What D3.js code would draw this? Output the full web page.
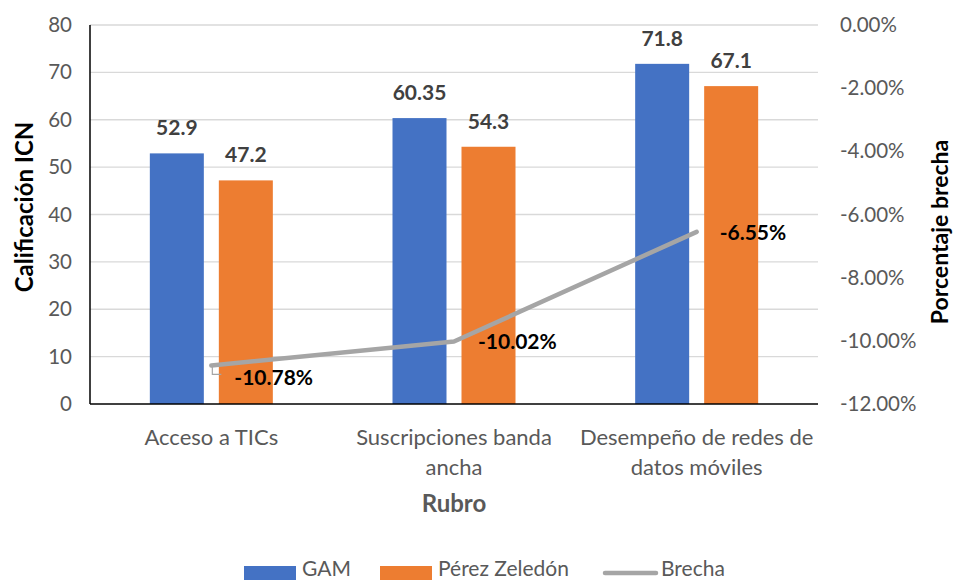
<!DOCTYPE html>
<html><head><meta charset="utf-8">
<script src="https://cdn.jsdelivr.net/npm/d3@7"></script>
<style>body{margin:0;background:#fff}svg{display:block}text{font-family:Lato,"Open Sans",sans-serif}</style>
</head><body><svg width="955" height="582"></svg>
<script>
const categories = [["Acceso a TICs"],["Suscripciones banda","ancha"],["Desempeño de redes de","datos móviles"]];
const catKeys = ["Acceso a TICs","Suscripciones banda ancha","Desempeño de redes de datos móviles"];
const seriesNames = ["GAM","Pérez Zeledón"];
const gam = [52.9, 60.35, 71.8];
const perez = [47.2, 54.3, 67.1];
const brecha = [-0.1078, -0.1002, -0.0655];
const gamLabels = ["52.9","60.35","71.8"];
const perezLabels = ["47.2","54.3","67.1"];
const brechaLabels = ["-10.78%","-10.02%","-6.55%"];
const leftTicks = [0,10,20,30,40,50,60,70,80];
const rightTicks = [0,-0.02,-0.04,-0.06,-0.08,-0.10,-0.12];
const rightTickLabels = ["0.00%","-2.00%","-4.00%","-6.00%","-8.00%","-10.00%","-12.00%"];
const colors = ["#4472C4","#ED7D31","#A5A5A5"];

const svg = d3.select("svg");
const L=90, R=818, T=25, B=404;
const x = d3.scaleBand().domain(catKeys).range([L,R]);
const y = d3.scaleLinear().domain([0,80]).range([B,T]);
const y2 = d3.scaleLinear().domain([-0.12,0]).range([B,T]);
const groupW = 123;
const x1 = d3.scaleBand().domain(seriesNames).range([0,groupW]).paddingInner(15/69);

// gridlines
svg.append("g").selectAll("line").data(leftTicks.slice(1)).join("line")
  .attr("x1",L).attr("x2",R).attr("y1",d=>y(d)).attr("y2",d=>y(d))
  .attr("stroke","#D9D9D9").attr("stroke-width",1.3);

// left axis labels
const gl = svg.append("g").attr("transform",`translate(${L},0)`)
  .call(d3.axisLeft(y).tickValues(leftTicks).tickSize(0).tickPadding(18).tickFormat(d3.format("d")));
gl.select(".domain").remove();
gl.selectAll("text").attr("font-size",20.5).attr("fill","#595959");

// right axis labels
const gr = svg.append("g").attr("transform",`translate(${R},0)`)
  .call(d3.axisRight(y2).tickValues(rightTicks).tickSize(0).tickPadding(22).tickFormat((d,i)=>rightTickLabels[i]));
gr.select(".domain").remove();
gr.selectAll("text").attr("font-size",20.5).attr("fill","#595959");

// bars
const data = catKeys.map((c,i)=>({c, vals:[gam[i],perez[i]], labs:[gamLabels[i],perezLabels[i]]}));
const groups = svg.append("g").selectAll("g").data(data).join("g")
  .attr("transform",d=>`translate(${x(d.c)+x.bandwidth()/2-groupW/2},0)`);
groups.selectAll("rect").data(d=>d.vals.map((v,j)=>({v,s:seriesNames[j],j}))).join("rect")
  .attr("x",d=>x1(d.s)).attr("width",x1.bandwidth())
  .attr("y",d=>y(d.v)).attr("height",d=>B-y(d.v)).attr("fill",d=>colors[d.j]);
groups.selectAll("text").data(d=>d.vals.map((v,j)=>({v,s:seriesNames[j],lab:d.labs[j]}))).join("text")
  .attr("x",d=>x1(d.s)+x1.bandwidth()/2).attr("y",d=>y(d.v)-18)
  .attr("text-anchor","middle").attr("font-size",21).attr("font-weight","bold").attr("fill","#404040")
  .text(d=>d.lab);

// axes lines
svg.append("line").attr("x1",L).attr("x2",L).attr("y1",T).attr("y2",B).attr("stroke","#000").attr("stroke-width",1.5);
svg.append("line").attr("x1",L).attr("x2",R).attr("y1",B).attr("y2",B).attr("stroke","#000").attr("stroke-width",1.5);

// line
const pts = catKeys.map((c,i)=>[x(c)+x.bandwidth()/2, y2(brecha[i])]);
svg.append("path").attr("d",d3.line()(pts)).attr("fill","none").attr("stroke",colors[2])
  .attr("stroke-width",4.5).attr("stroke-linecap","round").attr("stroke-linejoin","round");
// leader line for first label
svg.append("path").attr("d",`M${pts[0][0]+1},${pts[0][1]+1}L${pts[0][0]+1},${pts[0][1]+9}L${pts[0][0]+10},${pts[0][1]+9}`)
  .attr("fill","none").attr("stroke","#A5A5A5").attr("stroke-width",1.2);
const offs = [[23,14],[24,2],[23,3]];
svg.append("g").selectAll("text").data(brechaLabels).join("text")
  .attr("x",(d,i)=>pts[i][0]+offs[i][0]).attr("y",(d,i)=>pts[i][1]+offs[i][1])
  .attr("font-size",21).attr("font-weight","bold").attr("fill","#000").attr("dominant-baseline","middle")
  .text(d=>d);

// category labels
svg.append("g").selectAll("text").data(categories).join("text")
  .attr("x",(d,i)=>x(catKeys[i])+x.bandwidth()/2).attr("y",445)
  .attr("text-anchor","middle").attr("font-size",22).attr("fill","#595959")
  .each(function(d){
    const t=d3.select(this);
    d.forEach((s,k)=>t.append("tspan").attr("x",t.attr("x")).attr("dy",k?30:0).text(s));
  });

// axis titles
svg.append("text").attr("x",(L+R)/2).attr("y",512).attr("text-anchor","middle")
  .attr("font-size",24).attr("font-weight","bold").attr("fill","#595959").text("Rubro");
svg.append("text").attr("transform",`translate(33,207) rotate(-90)`).attr("text-anchor","middle")
  .attr("font-size",24).attr("font-weight","bold").attr("fill","#000").text("Calificación ICN");
svg.append("text").attr("transform",`translate(948,232) rotate(-90)`).attr("text-anchor","middle")
  .attr("font-size",23).attr("font-weight","bold").attr("fill","#000").text("Porcentaje brecha");

// legend
const leg = svg.append("g");
const legItems = [{n:"GAM",x:244,t:"rect",c:colors[0]},{n:"Pérez Zeledón",x:380,t:"rect",c:colors[1]},{n:"Brecha",x:603,t:"line",c:colors[2]}];
legItems.forEach(it=>{
  if(it.t==="rect") leg.append("rect").attr("x",it.x).attr("y",566).attr("width",52).attr("height",14).attr("fill",it.c);
  else leg.append("line").attr("x1",it.x+2).attr("x2",it.x+53).attr("y1",573).attr("y2",573).attr("stroke",it.c).attr("stroke-width",4.5).attr("stroke-linecap","round");
  leg.append("text").attr("x",it.x+58).attr("y",571).attr("dominant-baseline","middle").attr("font-size",21).attr("fill","#595959").text(it.n);
});
</script></body></html>
